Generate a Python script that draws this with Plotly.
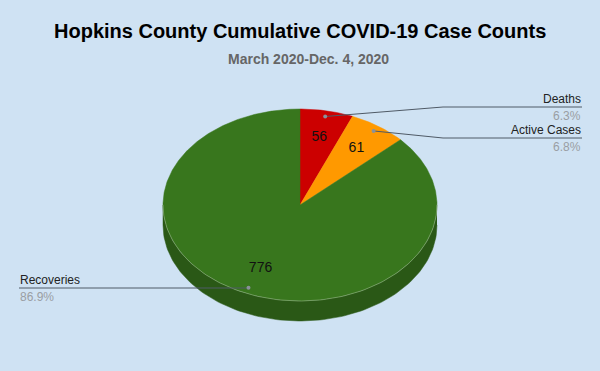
import numpy as np
import plotly.graph_objects as go

# ---- data ----
labels = ["Deaths", "Active Cases", "Recoveries"]
values = [56, 61, 776]
colors = ["#cc0000", "#ff9900", "#38761d"]
side_colors = ["#9a0000", "#c27400", "#2a5816"]
title = "Hopkins County Cumulative COVID-19 Case Counts"
subtitle = "March 2020-Dec. 4, 2020"

# ---- layout constants (pixel space) ----
W, H = 600, 371
CX, CY, RX, RY, DEPTH = 300, 205, 137, 96, 20
BG = "#cfe2f3"
FONT = "Arial, Liberation Sans, sans-serif"
LINE_COL = "#4f5a66"

total = float(sum(values))
fracs = [v / total for v in values]
starts = np.cumsum([0] + fracs[:-1]) * 360.0
ends = np.cumsum(fracs) * 360.0


def pt(theta, f=1.0, dy=0.0):
    t = np.radians(theta)
    return CX + f * RX * np.sin(t), CY - f * RY * np.cos(t) + dy


fig = go.Figure()

# side walls (visible front half: 90..270 degrees)
for s, e, c in zip(starts, ends, side_colors):
    a, b = max(s, 90), min(e, 270)
    if b <= a:
        continue
    th = np.linspace(a, b, 120)
    xt, yt = pt(th)
    xb, yb = pt(th[::-1], dy=DEPTH)
    fig.add_trace(go.Scatter(
        x=np.concatenate([xt, xb]), y=np.concatenate([yt, yb]),
        mode="lines", fill="toself", fillcolor=c,
        line=dict(color=c, width=0.5), hoverinfo="skip", showlegend=False))

# top wedges
for s, e, c in zip(starts, ends, colors):
    th = np.linspace(s, e, max(4, int((e - s) * 2)))
    xa, ya = pt(th)
    fig.add_trace(go.Scatter(
        x=np.concatenate([[CX], xa, [CX]]), y=np.concatenate([[CY], ya, [CY]]),
        mode="lines", fill="toself", fillcolor=c,
        line=dict(color=c, width=0.5), hoverinfo="skip", showlegend=False))

# faint highlight on front rim
th = np.linspace(90, 270, 120)
xr, yr = pt(th)
fig.add_trace(go.Scatter(x=xr, y=yr, mode="lines",
                         line=dict(color="rgba(255,255,255,0.35)", width=0.8),
                         hoverinfo="skip", showlegend=False))

# value labels inside slices
mids = (starts + ends) / 2.0
vx, vy = pt(mids, f=0.72)
fig.add_trace(go.Scatter(
    x=vx, y=vy, mode="text", text=[str(v) for v in values],
    textfont=dict(family=FONT, size=14, color="#111111"),
    hoverinfo="skip", showlegend=False))

# leader lines + labels
dx, dy = pt(mids, f=0.94)
label_side = ["right", "right", "left"]
line_y = [107, 138, 288]
elbow_x = [443, 443, None]
for i, lab in enumerate(labels):
    if label_side[i] == "right":
        xs = [dx[i], elbow_x[i], 582]
        ys = [dy[i], line_y[i], line_y[i]]
        ax, anc = 582, "right"
    else:
        xs = [dx[i], 19]
        ys = [line_y[i], line_y[i]]
        ax, anc = 19, "left"
    fig.add_trace(go.Scatter(x=xs, y=ys, mode="lines",
                             line=dict(color=LINE_COL, width=1),
                             hoverinfo="skip", showlegend=False))
    fig.add_annotation(x=ax, y=line_y[i] - 0.5, xref="x", yref="y", text=lab,
                       showarrow=False, xanchor=anc, yanchor="bottom", borderpad=0,
                       font=dict(family=FONT, size=12, color="#222222"))
    fig.add_annotation(x=ax, y=line_y[i] + 0.5, xref="x", yref="y",
                       text=f"{fracs[i]*100:.1f}%", borderpad=0,
                       showarrow=False, xanchor=anc, yanchor="top",
                       font=dict(family=FONT, size=12, color="#9a9ea3"))

fig.add_trace(go.Scatter(x=dx, y=dy, mode="markers",
                         marker=dict(color="#8a9199", size=4),
                         hoverinfo="skip", showlegend=False))

# titles
fig.add_annotation(x=300, y=31, xref="x", yref="y", text=f"<b>{title}</b>",
                   showarrow=False, xanchor="center", yanchor="middle",
                   font=dict(family=FONT, size=20, color="#000000"))
fig.add_annotation(x=308, y=59, xref="x", yref="y", text=f"<b>{subtitle}</b>",
                   showarrow=False, xanchor="center", yanchor="middle",
                   font=dict(family=FONT, size=14, color="#666666"))

fig.update_layout(
    width=W, height=H, margin=dict(l=0, r=0, t=0, b=0),
    paper_bgcolor=BG, plot_bgcolor=BG,
    xaxis=dict(range=[0, W], visible=False, fixedrange=True),
    yaxis=dict(range=[H, 0], visible=False, fixedrange=True),
    showlegend=False,
)

fig.write_html("out.html", config={"displayModeBar": False},
               post_script="document.body.style.margin='0';document.body.style.background='#cfe2f3';")
